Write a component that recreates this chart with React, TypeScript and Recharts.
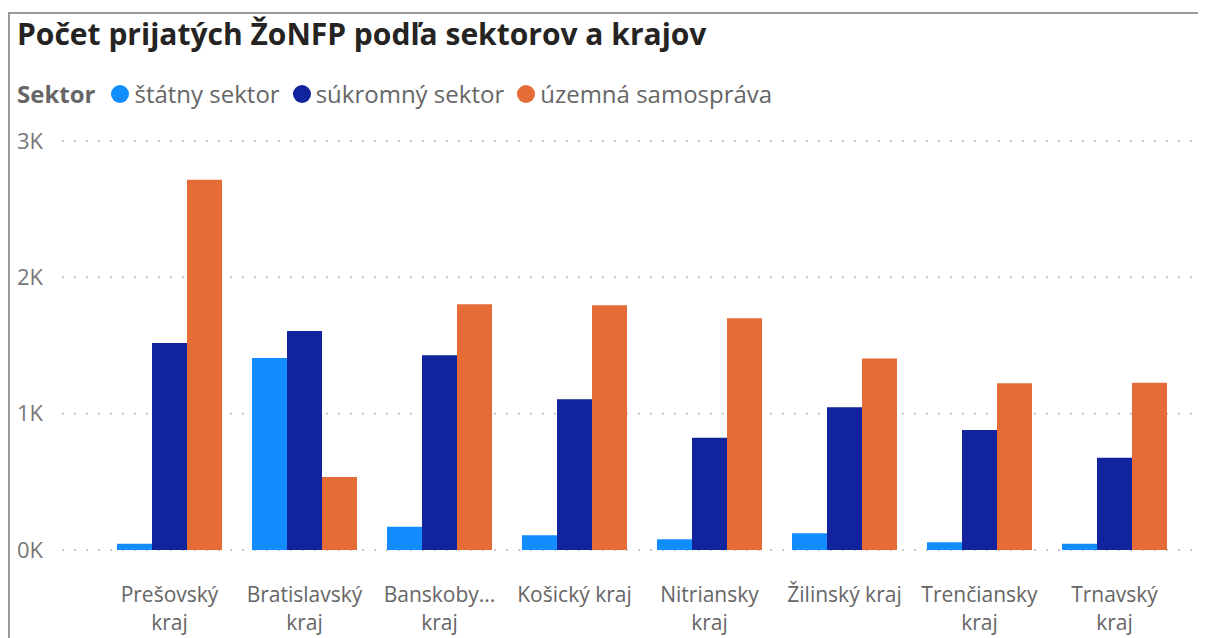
import React from 'react';
import { BarChart, Bar, XAxis, YAxis, CartesianGrid } from 'recharts';

const regions = [
  'Prešovský kraj',
  'Bratislavský kraj',
  'Banskobystrický kraj',
  'Košický kraj',
  'Nitriansky kraj',
  'Žilinský kraj',
  'Trenčiansky kraj',
  'Trnavský kraj',
];
// labels as they appear under the axis (wrapped / truncated)
const tickLabels = [
  ['Prešovský', 'kraj'],
  ['Bratislavský', 'kraj'],
  ['Banskoby...', 'kraj'],
  ['Košický kraj'],
  ['Nitriansky', 'kraj'],
  ['Žilinský kraj'],
  ['Trenčiansky', 'kraj'],
  ['Trnavský', 'kraj'],
];
const statny = [46, 1409, 171, 108, 78, 122, 56, 46];
const sukromny = [1519, 1607, 1428, 1105, 824, 1047, 880, 677];
const uzemna = [2715, 536, 1802, 1795, 1700, 1404, 1223, 1227];
const yTicks = [0, 1000, 2000, 3000];

const series = [
  { key: 'statny', name: 'štátny sektor', color: '#118DFF' },
  { key: 'sukromny', name: 'súkromný sektor', color: '#12239E' },
  { key: 'uzemna', name: 'územná samospráva', color: '#E66C37' },
];

const data = regions.map((region, i) => ({
  region,
  statny: statny[i],
  sukromny: sukromny[i],
  uzemna: uzemna[i],
}));

const FONT = '"Open Sans", "Noto Sans", sans-serif';

const RegionTick = (props: any) => {
  const { x, y, index } = props;
  const lines = tickLabels[index] || [props.payload.value];
  return (
    <text x={x} y={y} textAnchor="middle" fill="#666666" fontSize={21} fontFamily={FONT}>
      {lines.map((line, i) => (
        <tspan key={i} x={x} dy={i === 0 ? 50 : 28}>
          {line}
        </tspan>
      ))}
    </text>
  );
};

const App: React.FC = () => {
  return (
    <div style={{ position: 'relative', width: 1198, height: 630, fontFamily: FONT }}>
      {/* card frame */}
      <div
        style={{
          position: 'absolute',
          top: 4,
          left: 0,
          width: 1198,
          height: 626,
          borderTop: '2px solid #9a9a9a',
          borderLeft: '2px solid #9a9a9a',
          boxSizing: 'border-box',
        }}
      />
      <div
        style={{
          position: 'absolute',
          top: 5,
          left: 9,
          fontSize: 30,
          lineHeight: '41px',
          fontWeight: 700,
          color: '#252423',
          whiteSpace: 'nowrap',
        }}
      >
        Počet prijatých ŽoNFP podľa sektorov a krajov
      </div>
      <div
        style={{
          position: 'absolute',
          top: 70,
          left: 9,
          display: 'flex',
          alignItems: 'center',
          fontSize: 24,
          lineHeight: '32px',
          color: '#666666',
          whiteSpace: 'nowrap',
        }}
      >
        <span style={{ fontWeight: 700, marginRight: 16 }}>Sektor</span>
        {series.map((s, i) => (
          <span key={s.key} style={{ display: 'flex', alignItems: 'center', marginLeft: i === 0 ? 0 : 13 }}>
            <span
              style={{
                width: 18,
                height: 18,
                borderRadius: 9,
                background: s.color,
                display: 'inline-block',
                marginRight: 5,
              }}
            />
            {s.name}
          </span>
        ))}
      </div>
      <div style={{ position: 'absolute', top: 0, left: 0 }}>
        <BarChart
          width={1198}
          height={630}
          data={data}
          margin={{ top: 133, right: 8, bottom: 0, left: 0 }}
          barCategoryGap={15}
          barGap={0}
        >
          <CartesianGrid vertical={false} stroke="#c8c8c8" strokeDasharray="2 10" strokeWidth={2} />
          <XAxis
            dataKey="region"
            axisLine={false}
            tickLine={false}
            tickSize={0}
            height={88}
            interval={0}
            padding={{ left: 40, right: 16 }}
            tick={<RegionTick />}
          />
          <YAxis
            width={54}
            domain={[0, 3000]}
            ticks={yTicks}
            axisLine={false}
            tickLine={false}
            tickSize={0}
            tickMargin={19}
            tickFormatter={(v: number) => `${v / 1000}K`}
            tick={{ fill: '#777777', fontSize: 22, fontFamily: FONT }}
          />
          {series.map((s) => (
            <Bar key={s.key} dataKey={s.key} name={s.name} fill={s.color} isAnimationActive={false} />
          ))}
        </BarChart>
      </div>
    </div>
  );
};

export default App;
